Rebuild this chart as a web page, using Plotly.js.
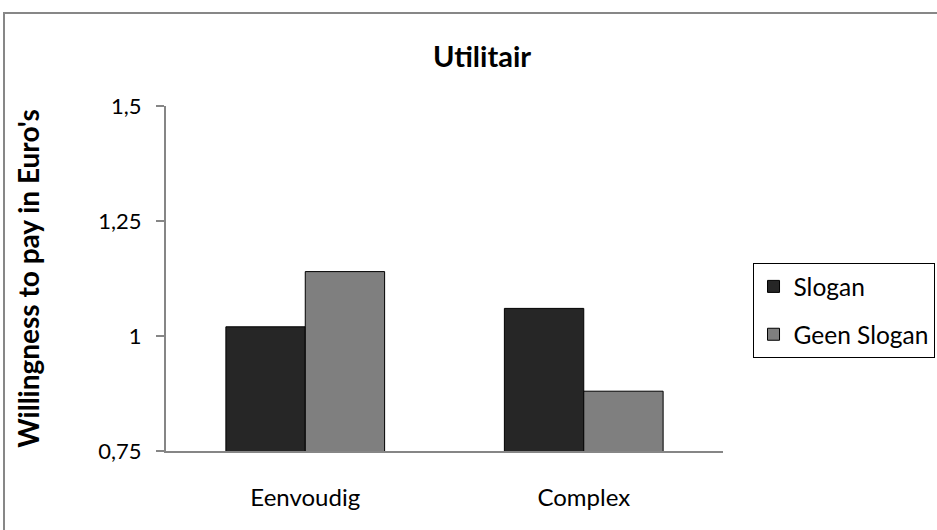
<!DOCTYPE html>
<html>
<head>
<meta charset="utf-8">
<script src="https://cdn.plot.ly/plotly-3.0.1.min.js"></script>
<style>
  html, body { margin: 0; padding: 0; background: #ffffff; }
  #wrap { position: relative; width: 937px; height: 530px; overflow: hidden; }
  #chart { width: 937px; height: 530px; }
  /* chart-area frame, open to the right and bottom */
  #frame {
    position: absolute; left: 3px; top: 12px; width: 960px; height: 560px;
    border-left: 2px solid #878787; border-top: 2px solid #878787;
    pointer-events: none;
  }
</style>
</head>
<body>
<div id="wrap">
  <div id="chart"></div>
  <div id="frame"></div>
</div>
<script>
// Willingness to pay per product type, with and without slogan
const categories = ["Eenvoudig", "Complex"];
const sloganValues = [1.02, 1.06];
const geenSloganValues = [1.14, 0.88];
const seriesNames = ["Slogan", "Geen Slogan"];
const yTickValues = [0.75, 1, 1.25, 1.5];
const yTickLabels = ["0,75", "1", "1,25", "1,5"];

const FONT = "Lato, 'Open Sans', sans-serif";

const traces = [
  {
    type: "bar",
    name: seriesNames[0],
    x: categories,
    y: sloganValues,
    legendgroup: "a",
    marker: { color: "#262626", line: { color: "#000000", width: 1 } },
    hoverinfo: "x+y"
  },
  {
    type: "bar",
    name: seriesNames[1],
    x: categories,
    y: geenSloganValues,
    legendgroup: "b",
    marker: { color: "#7f7f7f", line: { color: "#000000", width: 1 } },
    hoverinfo: "x+y"
  }
];

const layout = {
  width: 937,
  height: 530,
  margin: { l: 166, r: 214, t: 106, b: 79, pad: 0, autoexpand: false },
  paper_bgcolor: "#ffffff",
  plot_bgcolor: "#ffffff",
  font: { family: FONT, color: "#000000", size: 22 },
  separators: ", ",
  barmode: "group",
  bargap: 0.43,
  bargroupgap: 0,
  title: {
    text: "<b>Utilitair</b>",
    font: { family: FONT, size: 29, color: "#000000" },
    x: 482 / 937,
    xanchor: "center",
    y: 1 - 57 / 530,
    yanchor: "middle"
  },
  xaxis: {
    type: "category",
    showline: true,
    linecolor: "#868686",
    linewidth: 2,
    ticks: "",
    showgrid: false,
    zeroline: false,
    tickfont: { family: FONT, size: 24, color: "#000000" },
    ticklabelstandoff: 24
  },
  yaxis: {
    range: [0.75, 1.5],
    tickvals: yTickValues,
    ticktext: yTickLabels,
    showline: true,
    linecolor: "#868686",
    linewidth: 2,
    ticks: "outside",
    ticklen: 8,
    tickwidth: 2,
    tickcolor: "#868686",
    showgrid: false,
    zeroline: false,
    tickfont: { family: FONT, size: 22, color: "#000000" },
    ticklabelstandoff: 10,
    title: {
      text: "<b>Willingness to pay in Euro's</b>",
      font: { family: FONT, size: 28, color: "#000000" },
      standoff: 51
    }
  },
  showlegend: true,
  legend: {
    x: 1.053,
    xanchor: "left",
    y: 0.545,
    yanchor: "top",
    bordercolor: "#000000",
    borderwidth: 1,
    bgcolor: "#ffffff",
    font: { family: FONT, size: 24.5, color: "#000000" },
    traceorder: "grouped",
    tracegroupgap: 13,
    itemwidth: 30
  }
};

Plotly.newPlot("chart", traces, layout, { displayModeBar: false, staticPlot: true });
</script>
</body>
</html>
